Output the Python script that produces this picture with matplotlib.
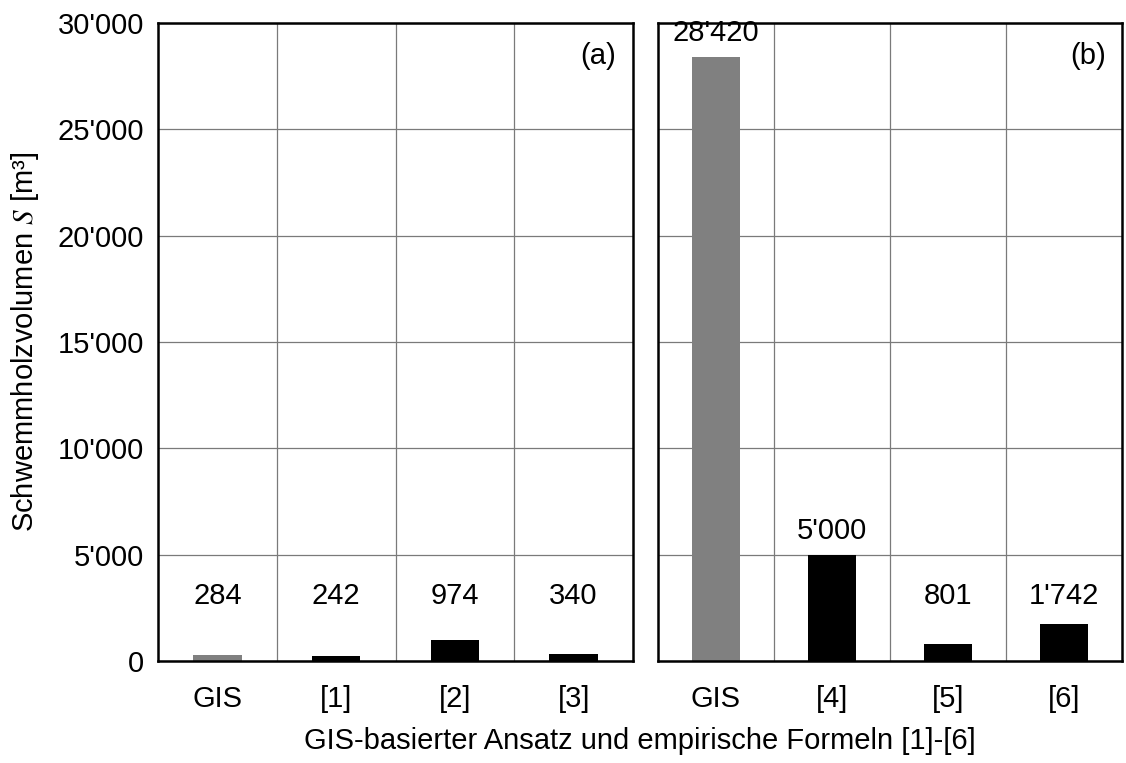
import numpy as np
import matplotlib.pyplot as plt
from matplotlib.ticker import FuncFormatter, FixedLocator

plt.rcParams['font.family'] = ['Liberation Sans', 'DejaVu Sans']
plt.rcParams['mathtext.fontset'] = 'stix'

# Data
cats_a = ['GIS', '[1]', '[2]', '[3]']
vals_a = [284, 242, 974, 340]
cats_b = ['GIS', '[4]', '[5]', '[6]']
vals_b = [28420, 5000, 801, 1742]
yticks = [0, 5000, 10000, 15000, 20000, 25000, 30000]


def swiss(v, pos=None):
    return f"{int(v):,}".replace(',', "'")


fig = plt.figure(figsize=(11.26, 7.63), dpi=100)
W, H = 1126, 763
ax_a = fig.add_axes([158 / W, 1 - 661 / H, 475 / W, 638 / H])
ax_b = fig.add_axes([658 / W, 1 - 661 / H, 464 / W, 638 / H])

FS = 21
for ax, cats, vals, tag in [(ax_a, cats_a, vals_a, '(a)'), (ax_b, cats_b, vals_b, '(b)')]:
    x = np.arange(len(cats))
    colors = ['#808080'] + ['black'] * (len(cats) - 1)
    ax.bar(x, vals, width=0.41, color=colors, zorder=3)
    for xi, v in zip(x, vals):
        ax.text(xi, max(v, 1950) + 450, swiss(v), ha='center', va='bottom', fontsize=FS)
    ax.set_xlim(-0.5, len(cats) - 0.5)
    ax.set_ylim(0, 30000)
    ax.set_xticks(x)
    ax.set_xticklabels(cats, fontsize=FS)
    ax.xaxis.set_minor_locator(FixedLocator(x[:-1] + 0.5))
    ax.set_yticks(yticks)
    ax.yaxis.set_major_formatter(FuncFormatter(swiss))
    ax.tick_params(axis='both', which='both', length=0, labelsize=FS)
    ax.tick_params(axis='x', pad=17)
    ax.tick_params(axis='y', pad=10)
    ax.grid(True, axis='y', which='major', color='#7a7a7a', linewidth=0.9, zorder=1)
    ax.grid(True, axis='x', which='minor', color='#7a7a7a', linewidth=0.9, zorder=1)
    ax.grid(False, axis='x', which='major')
    for sp in ax.spines.values():
        sp.set_linewidth(1.8)
        sp.set_zorder(4)
    ax.text(0.965, 0.97, tag, transform=ax.transAxes, ha='right', va='top', fontsize=FS)

ax_b.tick_params(axis='y', labelleft=False)
ax_a.set_ylabel("Schwemmholzvolumen $S$ [m³]", fontsize=FS, labelpad=12)

fig.text(640 / W, 1 - 741 / H, "GIS-basierter Ansatz und empirische Formeln [1]-[6]",
         ha='center', va='center', fontsize=FS)

fig.savefig('out.png', dpi=100)
